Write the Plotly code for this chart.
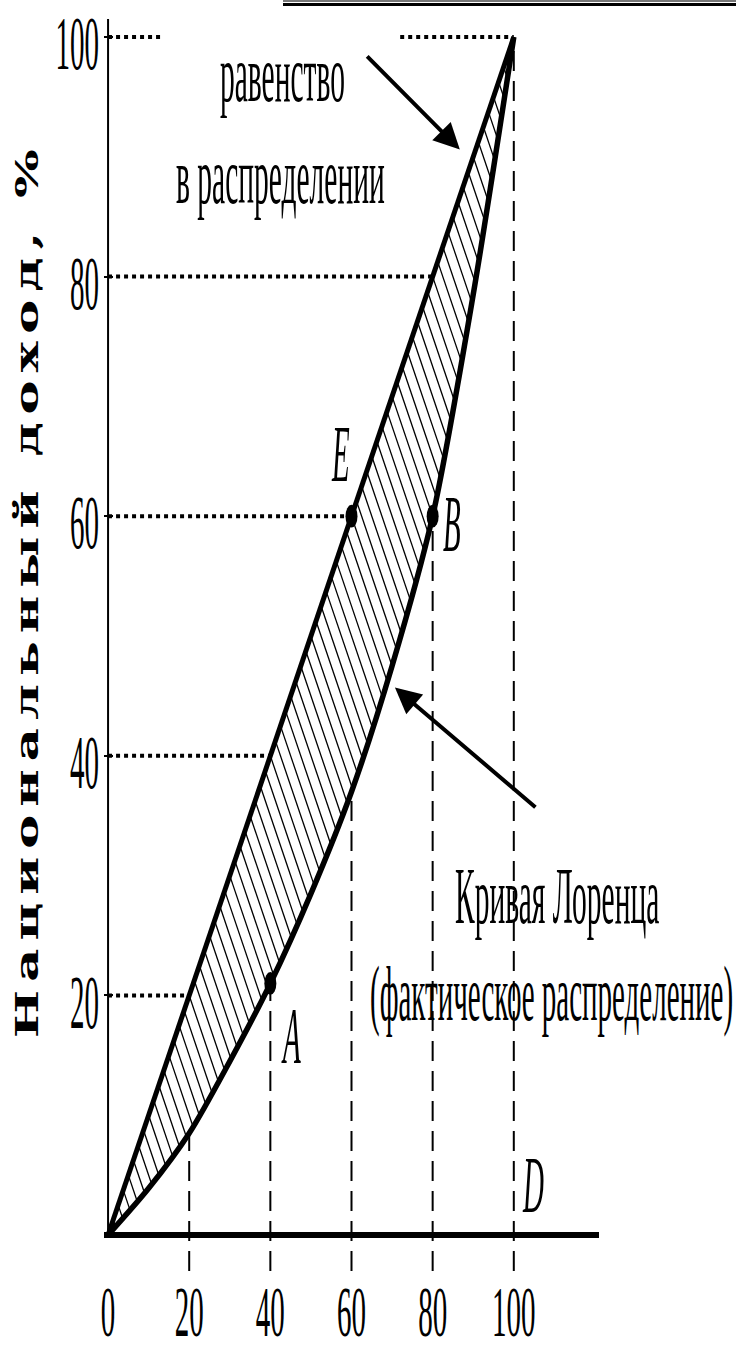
import numpy as np
import plotly.graph_objects as go

# ---------------- data ----------------
population_ticks = [0, 20, 40, 60, 80, 100]
income_ticks = [20, 40, 60, 80, 100]
equality_x = [0, 100]
equality_y = [0, 100]
lorenz_x = [0, 10, 20, 30, 40, 50, 60, 70, 80, 90, 100]
lorenz_y = [0, 3.9, 8.5, 14.5, 21, 28.5, 37, 47.5, 60, 78.5, 100]
point_names = ["A", "E", "B"]
point_x = [40, 60, 80]
point_y = [21, 60, 60]
guide_levels = [20, 40, 60, 80]
top_guide_segments = [(0, 13), (72, 100)]
drop_x = [20, 40, 60, 80, 100]

# ---------------- layout constants ----------------
W, H = 736, 1353
ML, MR, MT, MB = 104, 137, 19, 82
X_MIN, X_MAX = -1, 121
Y_MIN, Y_MAX = -3, 101.5


def px(xp):
    return (xp - ML) / (W - ML - MR)


def py(yp):
    return (H - MB - yp) / (H - MT - MB)


fig = go.Figure()

# hatching between equality line and Lorenz curve
lx = np.array(lorenz_x, dtype=float)
ly = np.array(lorenz_y, dtype=float)
s = lx + ly
hx, hy = [], []
for c in np.arange(2.5, 200, 2.5):
    xe = c / 2
    xl = float(np.interp(c, s, lx))
    yl = c - xl
    hx += [xe, xl, None]
    hy += [xe, yl, None]
fig.add_trace(go.Scatter(x=hx, y=hy, mode="lines",
                         line=dict(color="black", width=1.3),
                         hoverinfo="skip", showlegend=False))

# dotted horizontal guides
gx, gy = [], []
for lv in guide_levels:
    gx += [0, lv, None]
    gy += [lv, lv, None]
for a, b in top_guide_segments:
    gx += [a, b, None]
    gy += [100, 100, None]
fig.add_trace(go.Scatter(x=gx, y=gy, mode="lines",
                         line=dict(color="black", width=4, dash="dot"),
                         hoverinfo="skip", showlegend=False))

# dashed vertical drop lines
dx, dy = [], []
for xv in drop_x:
    top = float(np.interp(xv, lx, ly))
    dx += [xv, xv, None]
    dy += [Y_MIN, top, None]
fig.add_trace(go.Scatter(x=dx, y=dy, mode="lines",
                         line=dict(color="black", width=2, dash="20px,10px"),
                         hoverinfo="skip", showlegend=False))

# equality line and Lorenz curve
fig.add_trace(go.Scatter(x=equality_x, y=equality_y, mode="lines",
                         line=dict(color="black", width=5),
                         hoverinfo="skip", showlegend=False))
fig.add_trace(go.Scatter(x=lorenz_x, y=lorenz_y, mode="lines",
                         line=dict(color="black", width=5.5, shape="spline", smoothing=0.8),
                         hoverinfo="skip", showlegend=False))

# points
fig.add_trace(go.Scatter(x=point_x, y=point_y, mode="markers",
                         marker=dict(color="black", size=12),
                         text=point_names, hoverinfo="text", showlegend=False))

serif = "Liberation Serif, Times New Roman, serif"
ann = []
stretch = []  # vertical stretch per annotation (index-aligned)

label_pos = {"A": (45.2, 16.7), "E": (57.4, 65.3), "B": (84.7, 59.4), "D": (104.7, 4.3)}
for name, (ax_, ay_) in label_pos.items():
    ann.append(dict(x=ax_, y=ay_, xref="x", yref="y", text=f"<i>{name}</i>",
                    showarrow=False, font=dict(family=serif, size=29, color="black")))
    stretch.append(2.8)

for txt, (tx, ty), size in [
    ("равенство", (43.1, 96.9), 29.5),
    ("в распределении", (42.4, 88.4), 29.5),
    ("Кривая Лоренца", (110.7, 28.3), 29.5),
    ("(фактическое распределение)", (109.3, 20.1), 29),
]:
    ann.append(dict(x=tx, y=ty, xref="x", yref="y", text=txt, showarrow=False,
                    font=dict(family=serif, size=size, color="black")))
    stretch.append(2.7)

# arrows
ann.append(dict(x=86.7, y=90.6, xref="x", yref="y", ax=63.5, ay=98.5, axref="x", ayref="y",
                text="", showarrow=True, arrowhead=2, arrowsize=1.3, arrowwidth=4, arrowcolor="black"))
stretch.append(None)
ann.append(dict(x=70.7, y=45.7, xref="x", yref="y", ax=105.7, ay=35.6, axref="x", ayref="y",
                text="", showarrow=True, arrowhead=2, arrowsize=1.3, arrowwidth=4, arrowcolor="black"))
stretch.append(None)

# y axis title
ann.append(dict(x=px(27), y=py(590), xref="paper", yref="paper", textangle=-90,
                xanchor="center", yanchor="middle",
                text='<span style="letter-spacing:5px">Национальный доход, %</span>',
                showarrow=False,
                font=dict(family="DejaVu Serif, serif", size=32, color="black", weight="bold")))
stretch.append(1.6)

shapes = [
    # y axis line
    dict(type="line", xref="x", yref="y", x0=0, x1=0, y0=0, y1=Y_MAX,
         line=dict(color="black", width=2)),
    # decorative double rule at top
    dict(type="line", xref="paper", yref="paper", x0=px(283), x1=px(736), y0=py(1), y1=py(1),
         line=dict(color="#777777", width=2)),
    dict(type="line", xref="paper", yref="paper", x0=px(283), x1=px(736), y0=py(4.5), y1=py(4.5),
         line=dict(color="black", width=3)),
]

fig.update_layout(
    width=W, height=H,
    margin=dict(l=ML, r=MR, t=MT, b=MB),
    paper_bgcolor="white", plot_bgcolor="white",
    annotations=ann, shapes=shapes,
    xaxis=dict(range=[X_MIN, X_MAX], tickvals=population_ticks, ticktext=[str(v) for v in population_ticks],
               showgrid=False, zeroline=False, showline=False, ticks="", automargin=False,
               tickfont=dict(family=serif, size=29, color="black"), ticklabelstandoff=20),
    yaxis=dict(range=[Y_MIN, Y_MAX], tickvals=income_ticks, ticktext=[str(v) for v in income_ticks],
               showgrid=False, zeroline=True, zerolinecolor="black", zerolinewidth=6,
               showline=False, ticks="inside", ticklen=9, tickwidth=2, tickcolor="black", automargin=False,
               tickfont=dict(family=serif, size=29, color="black"), ticklabelstandoff=4,
               ticklabelshift=6),
)

# the reference artwork is a vertically stretched scan: reproduce the tall, narrow lettering
calls = ["stretchEls('.xtick text', 2.5);", "stretchEls('.ytick text', 2.6);",
         "stretchEls('.scatterlayer .points path', 1.9);"]
for i, sy in enumerate(stretch):
    if sy:
        calls.append(f"stretchEls('g.annotation[data-index=\"{i}\"] text', {sy});")

post_js = """
document.body.style.margin = '0';
var gd = document.getElementById('{plot_id}');
function stretchEls(sel, sy) {
  gd.querySelectorAll(sel).forEach(function (el) {
    var svg = el.ownerSVGElement;
    if (!svg) return;
    var r = el.getBoundingClientRect();
    var sr = svg.getBoundingClientRect();
    if (r.width === 0 && r.height === 0) return;
    var cx = r.left + r.width / 2 - sr.left;
    var cy = r.top + r.height / 2 - sr.top;
    var P = el.parentNode.getCTM();
    var K = svg.createSVGMatrix().translate(cx, cy).scaleNonUniform(1, sy).translate(-cx, -cy);
    var tl = el.transform.baseVal;
    var local = tl.numberOfItems ? tl.consolidate().matrix : svg.createSVGMatrix();
    var M = P.inverse().multiply(K).multiply(P).multiply(local);
    tl.initialize(svg.createSVGTransformFromMatrix(M));
  });
}
""" + "\n".join(calls)

fig.write_html("out.html", post_script=post_js, config={"displayModeBar": False})
